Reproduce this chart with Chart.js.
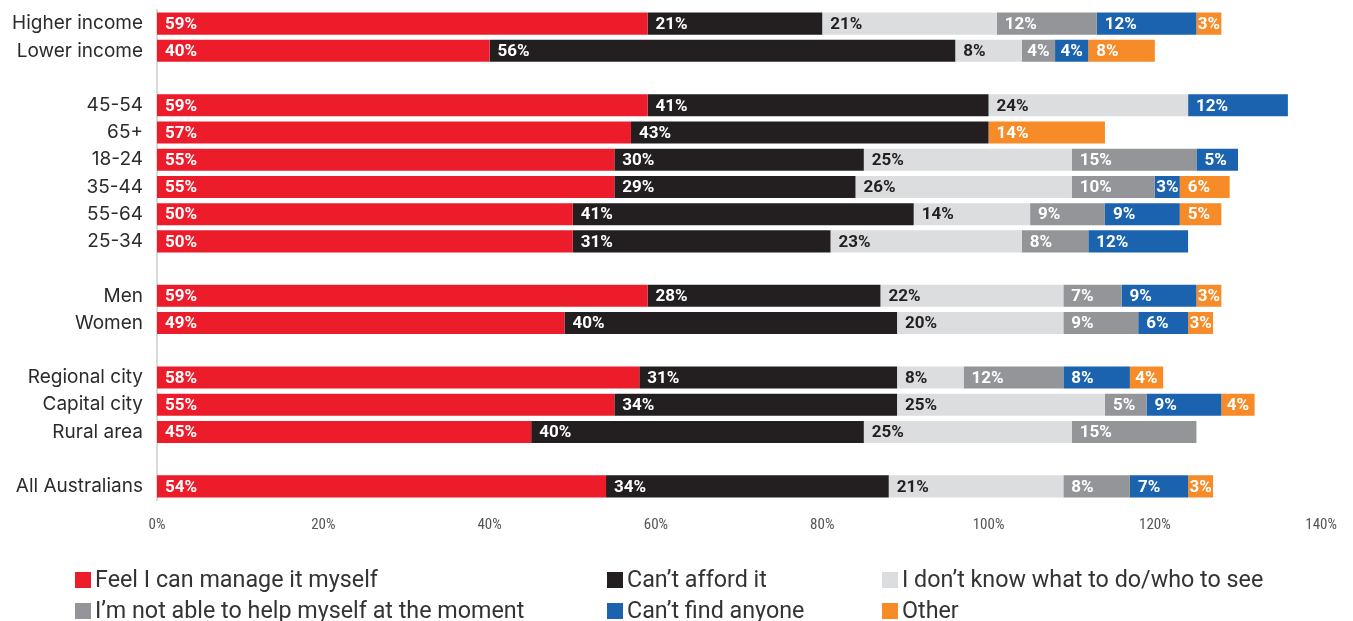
<!DOCTYPE html>
<html>
<head>
<meta charset="utf-8">
<script src="https://cdn.jsdelivr.net/npm/chart.js@4"></script>
<style>
  html, body { margin: 0; padding: 0; background: #fff; }
  #wrap { position: relative; width: 1353px; height: 621px; overflow: hidden; }
  #chart { position: absolute; left: 0; top: 0; }
  #legend { position: absolute; left: 0; top: 565px; width: 1353px; height: 60px;
            font-family: Roboto, "Noto Sans", sans-serif; font-size: 23.3px; color: #333; }
  .item { position: absolute; white-space: nowrap; line-height: 28px; }
  .box { display: inline-block; width: 16px; height: 16px; margin-right: 4px; vertical-align: -1px; }
</style>
</head>
<body>
<div id="wrap">
  <canvas id="chart" width="1353" height="621"></canvas>
  <div id="legend"></div>
</div>
<script>
// Rows from top to bottom; empty strings are spacer rows between groups.
const categories = [
  'Higher income', 'Lower income', '',
  '45-54', '65+', '18-24', '35-44', '55-64', '25-34', '',
  'Men', 'Women', '',
  'Regional city', 'Capital city', 'Rural area', '',
  'All Australians'
];

const seriesNames = [
  'Feel I can manage it myself',
  'Can\u2019t afford it',
  'I don\u2019t know what to do/who to see',
  'I\u2019m not able to help myself at the moment',
  'Can\u2019t find anyone',
  'Other'
];

const manageMyself = [59, 40, null, 59, 57, 55, 55, 50, 50, null, 59, 49, null, 58, 55, 45, null, 54];
const cantAfford   = [21, 56, null, 41, 43, 30, 29, 41, 31, null, 28, 40, null, 31, 34, 40, null, 34];
const dontKnow     = [21,  8, null, 24, null, 25, 26, 14, 23, null, 22, 20, null, 8, 25, 25, null, 21];
const notAble      = [12,  4, null, null, null, 15, 10, 9, 8, null, 7, 9, null, 12, 5, 15, null, 8];
const cantFind     = [12,  4, null, 12, null, 5, 3, 9, 12, null, 9, 6, null, 8, 9, null, null, 7];
const other        = [3,   8, null, null, 14, null, 6, 5, null, null, 3, 3, null, 4, 4, null, null, 3];

const tickValues = [0, 20, 40, 60, 80, 100, 120, 140];

const colors      = ['#ED1C2B', '#231F20', '#DCDDDE', '#939598', '#1B63AF', '#F68B28'];
const labelColors = ['#ffffff', '#ffffff', '#231F20', '#ffffff', '#ffffff', '#ffffff'];
const seriesData  = [manageMyself, cantAfford, dontKnow, notAble, cantFind, other];

const datasets = seriesNames.map((name, i) => ({
  label: name,
  data: seriesData[i],
  backgroundColor: colors[i],
  labelColor: labelColors[i],
  borderWidth: 0,
  barPercentage: 0.81,
  categoryPercentage: 1.0
}));

// Writes each segment's percentage inside it, near the left edge.
const valueLabels = {
  id: 'valueLabels',
  afterDatasetsDraw(chart) {
    const ctx = chart.ctx;
    ctx.save();
    ctx.font = '700 17px Roboto, "Noto Sans", sans-serif';
    ctx.textBaseline = 'middle';
    ctx.textAlign = 'left';
    chart.data.datasets.forEach((ds, di) => {
      const meta = chart.getDatasetMeta(di);
      if (meta.hidden) return;
      meta.data.forEach((bar, i) => {
        const v = ds.data[i];
        if (v == null || v === 0) return;
        const text = v + '%';
        const left = Math.min(bar.x, bar.base);
        const w = Math.abs(bar.x - bar.base);
        const tw = ctx.measureText(text).width;
        const pad = Math.max(0, Math.min(8, (w - tw) / 2));
        ctx.fillStyle = ds.labelColor;
        ctx.fillText(text, left + pad, bar.y + 1);
      });
    });
    ctx.restore();
  }
};

const chart = new Chart(document.getElementById('chart'), {
  type: 'bar',
  data: { labels: categories, datasets },
  plugins: [valueLabels],
  options: {
    indexAxis: 'y',
    responsive: false,
    animation: false,
    layout: { padding: { top: 10, right: 31, bottom: 81, left: 0 } },
    plugins: {
      legend: { display: false },
      tooltip: { enabled: false }
    },
    scales: {
      x: {
        stacked: true,
        min: 0,
        max: 140,
        afterFit(scale) { scale.height = 40; },
        afterBuildTicks(scale) { scale.ticks = tickValues.map(v => ({ value: v })); },
        grid: { display: false, drawTicks: false },
        border: { display: false },
        ticks: {
          padding: 16,
          color: '#555',
          font: { family: '"Liberation Sans Narrow", "Roboto Condensed", Roboto, sans-serif', size: 15 },
          callback: v => v + '%',
          maxRotation: 0
        }
      },
      y: {
        stacked: true,
        afterFit(scale) { scale.width = 157; },
        grid: { display: false, drawTicks: true, tickLength: 14 },
        border: { display: true, color: '#DADADA', width: 2 },
        ticks: {
          padding: 0,
          color: '#2b2b2b',
          font: { family: 'Inter, Roboto, sans-serif', size: 19, lineHeight: 1 }
        }
      }
    }
  }
});

// Legend laid out in three columns under the axis.
const legendEl = document.getElementById('legend');
const colX = [75, 607, 882];
const rowY = [0, 31];
chart.data.datasets.forEach((ds, i) => {
  const item = document.createElement('div');
  item.className = 'item';
  item.style.left = colX[i % 3] + 'px';
  item.style.top = rowY[Math.floor(i / 3)] + 'px';
  const box = document.createElement('span');
  box.className = 'box';
  box.style.background = ds.backgroundColor;
  item.appendChild(box);
  item.appendChild(document.createTextNode(ds.label));
  legendEl.appendChild(item);
});
</script>
</body>
</html>
